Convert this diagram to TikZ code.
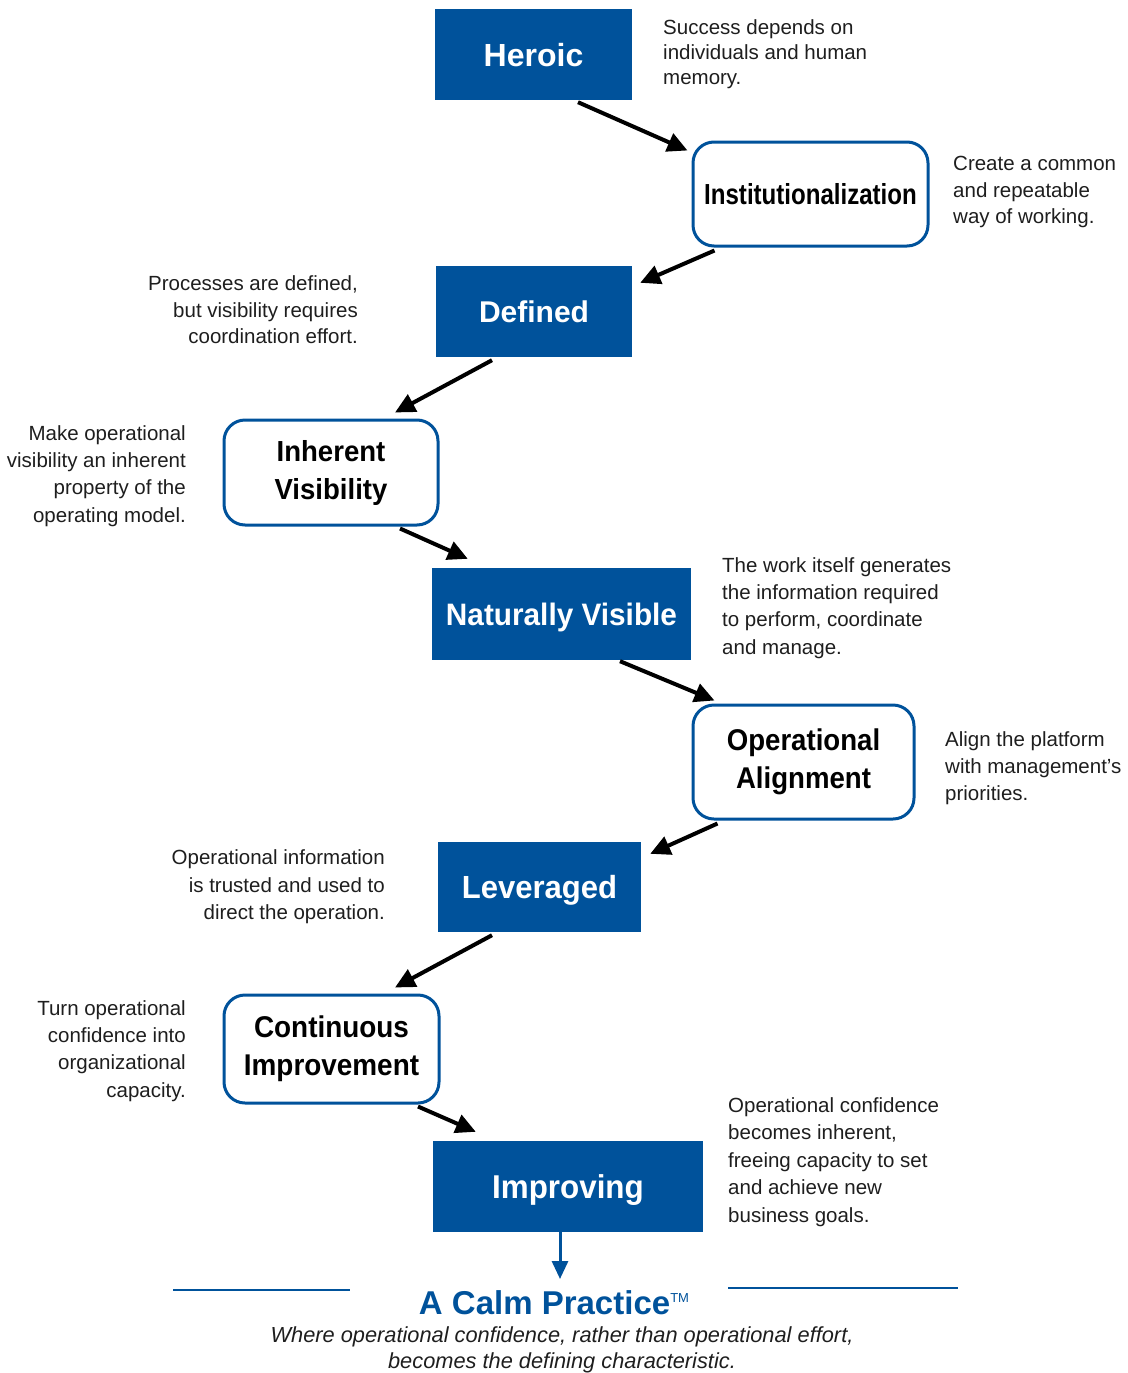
\documentclass[tikz,border=0pt]{standalone}
\usepackage{fontspec}
\usepackage{graphicx}
\setmainfont{Liberation Sans}
\usetikzlibrary{arrows.meta,calc}
\definecolor{cblue}{RGB}{0,82,155}
\definecolor{ntext}{RGB}{30,30,30}
\newcommand\tf[1]{\fontsize{#1}{38}\bfseries\selectfont}
\newcommand\nf[1]{\fontsize{20.5}{#1}\selectfont}
\newcommand\sx[2]{\scalebox{#1}[1]{#2}}
\tikzset{
 filledbox/.style={fill=cblue, draw=none, text=white, inner sep=0pt, align=center, text depth=0pt},
 roundbox/.style={draw=cblue, line width=3pt, rounded corners=21pt, fill=white, text=black, inner sep=0pt, align=center},
 note/.style={inner sep=0pt, text=ntext},
 arr/.style={line width=4pt, -{Triangle[length=20pt,width=19pt]}, black},
 bluearr/.style={line width=3pt, -{Triangle[length=18pt,width=16pt]}, cblue},
 rule/.style={line width=2pt, cblue},
}
\begin{document}
\begin{tikzpicture}[x=1pt,y=-1pt]
\useasboundingbox (0,0) rectangle (1127,1373);
% stage boxes
\node[filledbox, minimum width=197pt, minimum height=91pt, text height=23pt, font=\tf{32}] (heroic) at (533.5,54.5) {Heroic};
\node[roundbox, minimum width=235pt, minimum height=104pt, font=\tf{29}] (inst) at (810.5,194) {\sx{0.83}{Institutionalization}};
\node[filledbox, minimum width=196pt, minimum height=91pt, text height=21.5pt, font=\tf{30}] (defined) at (534,311.5) {Defined};
\node[roundbox, minimum width=214pt, minimum height=105pt, font=\tf{29}] (inherent) at (331,472.5) {\sx{0.95}{Inherent}\\\sx{0.95}{Visibility}};
\node[filledbox, minimum width=259pt, minimum height=92pt, text height=22.2pt, font=\tf{31}] (natvis) at (561.5,614) {\sx{0.96}{Naturally Visible}};
\node[roundbox, minimum width=221pt, minimum height=114pt, font=\tf{30}] (opalign) at (803.5,762) {\sx{0.92}{Operational}\\\sx{0.92}{Alignment}};
\node[filledbox, minimum width=203pt, minimum height=90pt, text height=23pt, font=\tf{32}] (leveraged) at (539.5,887) {\sx{0.97}{Leveraged}};
\node[roundbox, minimum width=215pt, minimum height=108pt, font=\tf{30}] (contimp) at (331.5,1049) {\sx{0.93}{Continuous}\\\sx{0.93}{Improvement}};
\node[filledbox, minimum width=270pt, minimum height=91pt, text height=23.6pt, font=\tf{33}] (improving) at (568,1186.5) {\sx{0.95}{Improving}};
% notes
\node[note, anchor=west, align=left, font=\nf{25}] (n1) at (663,54) {Success depends on\\individuals and human\\memory.};
\node[note, anchor=west, align=left, font=\nf{26.5}] (n2) at (953,192) {Create a common\\and repeatable\\way of working.};
\node[note, anchor=east, align=right, font=\nf{26.5}] (n3) at (358,310) {Processes are defined,\\but visibility requires\\coordination effort.};
\node[note, anchor=east, align=right, font=\nf{27.3}] (n4) at (186,476) {Make operational\\visibility an inherent\\property of the\\operating model.};
\node[note, anchor=west, align=left, font=\nf{27.3}] (n5) at (722,608) {The work itself generates\\the information required\\to perform, coordinate\\and manage.};
\node[note, anchor=west, align=left, font=\nf{27}] (n6) at (945,768) {Align the platform\\with management's\\priorities.};
\node[note, anchor=east, align=right, font=\nf{27.5}] (n7) at (385,887) {Operational information\\is trusted and used to\\direct the operation.};
\node[note, anchor=east, align=right, font=\nf{27.3}] (n8) at (186,1051) {Turn operational\\confidence into\\organizational\\capacity.};
\node[note, anchor=west, align=left, font=\nf{27.5}] (n9) at (728,1162) {Operational confidence\\becomes inherent,\\freeing capacity to set\\and achieve new\\business goals.};
% connectors
\draw[arr] ($(heroic.south)+(44.5,2)$) -- ($(inst.north west)+(-4,10)$);
\draw[arr] ($(inst.south west)+(23,3)$) -- ($(defined.north east)+(8,17)$);
\draw[arr] ($(defined.south)+(-42,3)$) -- ($(inherent.north)+(64,-6)$);
\draw[arr] ($(inherent.south)+(69,2)$) -- ($(natvis.north west)+(36,-9)$);
\draw[arr] ($(natvis.south)+(58.5,1)$) -- ($(opalign.north west)+(23,-3)$);
\draw[arr] ($(opalign.south west)+(26,3)$) -- ($(leveraged.north east)+(9,12)$);
\draw[arr] ($(leveraged.south)+(-47.5,3)$) -- ($(contimp.north)+(63.5,-6)$);
\draw[arr] ($(contimp.south)+(86.5,2)$) -- ($(improving.north west)+(43,-9)$);
% calm practice
\coordinate (calmtip) at (560,1279);
\draw[bluearr] (improving.south -| calmtip) -- (calmtip);
\coordinate (l1) at (173,1290);
\coordinate (l2) at (350,1290);
\coordinate (r1) at (728,1288);
\coordinate (r2) at (958,1288);
\draw[rule] (l1) -- (l2);
\draw[rule] (r1) -- (r2);
\node[inner sep=0pt, text=cblue, font=\fontsize{33}{38}\bfseries\selectfont] (calm) at (554,1303) {A Calm Practice\raisebox{12pt}{\fontsize{13}{13}\mdseries\selectfont TM}};
\node[inner sep=0pt, text=ntext, align=center, font=\fontsize{21.8}{26.5}\itshape\selectfont] (tag) at (562,1350) {Where operational confidence, rather than operational effort,\\becomes the defining characteristic.};
\end{tikzpicture}
\end{document}
